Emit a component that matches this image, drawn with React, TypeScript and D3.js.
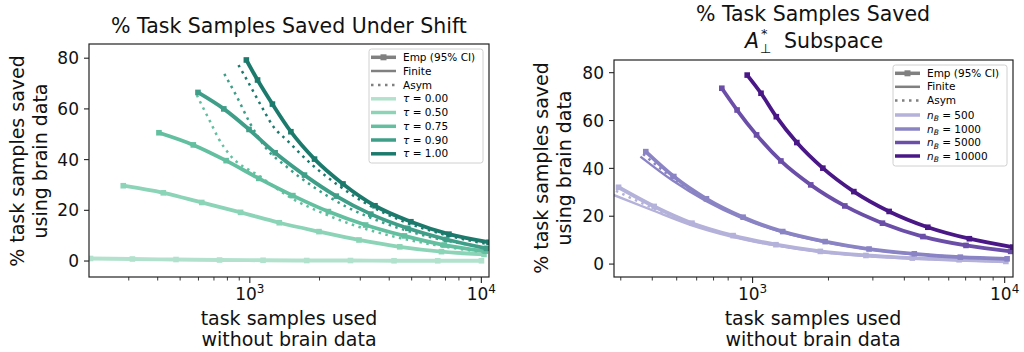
import React from "react";
import * as d3 from "d3";

// ---- left panel: % task samples saved under shift ----
const tauLabels = ["0.00", "0.50", "0.75", "0.90", "1.00"];
const tauColors = ["#b2e2cd", "#8cd4b7", "#62bf9f", "#3e9e88", "#1c7a6d"];

// empirical points (x = task samples used without brain data, y = % saved)
const tau00X = [205, 311, 480, 740, 1141, 1761, 2720, 4197, 6482, 10010];
const tau00Y = [1.0, 0.8, 0.6, 0.4, 0.3, 0.2, 0.2, 0.1, 0.1, 0.1];
const tau05X = [284, 423, 620, 912, 1340, 1989, 2961, 4442, 6725, 10267];
const tau05Y = [29.7, 26.9, 23.1, 19.2, 15.1, 11.6, 8.3, 5.6, 3.7, 2.6];
const tau075X = [405, 570, 790, 1093, 1534, 2184, 3164, 4654, 6911, 10406];
const tau075Y = [50.6, 45.8, 39.6, 32.6, 25.8, 19.5, 14.2, 9.9, 6.3, 3.9];
const tau09X = [597, 772, 992, 1286, 1722, 2363, 3331, 4814, 7078, 10526];
const tau09Y = [66.5, 60.0, 51.9, 42.7, 33.9, 25.6, 18.5, 12.9, 8.5, 5.0];
const tau10X = [966, 1080, 1252, 1504, 1903, 2526, 3472, 4962, 7244, 10799];
const tau10Y = [79.3, 71.4, 61.9, 51.0, 40.2, 30.4, 21.8, 15.5, 10.6, 7.4];

// asymptotic curves
const asym075X = [590, 620, 674, 732, 809, 1108, 1500, 2100, 3000, 4500, 6800, 10400];
const asym075Y = [65.5, 61.5, 55.0, 48.4, 42.5, 33.3, 25.0, 18.6, 13.3, 9.0, 5.8, 3.4];
const asym09X = [776, 879, 1003, 1164, 1450, 1900, 2600, 3800, 5800, 10400];
const asym09Y = [73.8, 64.8, 54.3, 45.0, 37.0, 29.0, 21.5, 15.0, 9.8, 5.4];
const asym10X = [893, 937, 1036, 1145, 1264, 1445, 1820, 2400, 2992, 4500, 7000, 10700];
const asym10Y = [77.3, 74.0, 66.8, 59.6, 53.0, 47.7, 38.7, 30.0, 24.1, 16.0, 10.3, 6.6];

// ---- right panel: A_perp* subspace ----
const nbLabels = ["500", "1000", "5000", "10000"];
const nbColors = ["#b4b1da", "#8a84c5", "#6a4ea8", "#4a1787"];

const nb500X = [294, 407, 575, 837, 1238, 1856, 2816, 4300, 6595, 10111];
const nb500Y = [32.1, 24.1, 17.1, 11.9, 8.1, 5.3, 3.6, 2.5, 1.8, 1.1];
const nb1000X = [377, 487, 656, 917, 1317, 1940, 2898, 4381, 6669, 10225];
const nb1000Y = [47.0, 36.6, 27.3, 19.6, 13.6, 9.4, 6.3, 4.3, 2.9, 2.2];
const nb5000X = [755, 868, 1037, 1295, 1701, 2322, 3275, 4738, 7024, 10560];
const nb5000Y = [73.5, 64.4, 54.0, 43.1, 33.1, 24.3, 17.1, 11.5, 7.8, 5.3];
const nb10000X = [952, 1080, 1242, 1498, 1900, 2522, 3481, 4956, 7244, 10764];
const nb10000Y = [79.0, 71.4, 61.6, 50.8, 40.1, 30.3, 22.0, 15.4, 10.6, 7.1];

const fin500X = [270, 400, 570, 830, 1230, 1850, 2810, 4300, 6600, 10100];
const fin500Y = [29.6, 22.5, 16.3, 11.4, 7.8, 5.1, 3.4, 2.3, 1.6, 1.0];
const fin1000X = [359, 480, 650, 912, 1315, 1938, 2897, 4380, 6668, 10225];
const fin1000Y = [44.9, 35.0, 26.5, 19.1, 13.3, 9.2, 6.2, 4.2, 2.9, 2.2];
const asy500X = [287, 404, 572, 834, 1234, 1853, 2813, 4300, 6598, 10105];
const asy500Y = [30.6, 23.3, 16.7, 11.7, 8.0, 5.2, 3.5, 2.4, 1.7, 1.05];
const asy1000X = [368, 484, 653, 915, 1316, 1939, 2897, 4380, 6668, 10225];
const asy1000Y = [46.0, 35.8, 26.9, 19.4, 13.5, 9.3, 6.25, 4.25, 2.9, 2.2];

const yTicks = [0, 20, 40, 60, 80];
const FONT = "DejaVu Sans, sans-serif";

const zip = (xs, ys) => xs.map((x, i) => [x, ys[i]]);

const leftSeries = [
  { color: tauColors[0], emp: zip(tau00X, tau00Y) },
  { color: tauColors[1], emp: zip(tau05X, tau05Y) },
  { color: tauColors[2], emp: zip(tau075X, tau075Y), asym: zip(asym075X, asym075Y) },
  { color: tauColors[3], emp: zip(tau09X, tau09Y), asym: zip(asym09X, asym09Y) },
  { color: tauColors[4], emp: zip(tau10X, tau10Y), asym: zip(asym10X, asym10Y) },
];

const rightSeries = [
  { color: nbColors[0], emp: zip(nb500X, nb500Y), fin: zip(fin500X, fin500Y), asym: zip(asy500X, asy500Y) },
  { color: nbColors[1], emp: zip(nb1000X, nb1000Y), fin: zip(fin1000X, fin1000Y), asym: zip(asy1000X, asy1000Y) },
  { color: nbColors[2], emp: zip(nb5000X, nb5000Y) },
  { color: nbColors[3], emp: zip(nb10000X, nb10000Y) },
];

function Legend({ x, y, w, h, rowY, labels, colors }) {
  const hx0 = x + 2, hx1 = x + 27, tx = x + 34;
  const gray = "#808080";
  return (
    <g fontFamily={FONT} fontSize={10.5}>
      <rect x={x} y={y} width={w} height={h} rx={2.5} fill="white" fillOpacity={0.8} stroke="#d0d0d0" />
      <line x1={hx0} x2={hx1} y1={rowY[0]} y2={rowY[0]} stroke={gray} strokeWidth={3.5} />
      <rect x={(hx0 + hx1) / 2 - 3} y={rowY[0] - 3} width={6} height={6} fill={gray} />
      <text x={tx} y={rowY[0]} dy="0.35em">Emp (95% CI)</text>
      <line x1={hx0} x2={hx1} y1={rowY[1]} y2={rowY[1]} stroke={gray} strokeWidth={2.5} />
      <text x={tx} y={rowY[1]} dy="0.35em">Finite</text>
      <line x1={hx0} x2={hx1} y1={rowY[2]} y2={rowY[2]} stroke={gray} strokeWidth={2.5} strokeDasharray="2.5,4.5" />
      <text x={tx} y={rowY[2]} dy="0.35em">Asym</text>
      {labels.map((lab, i) => (
        <g key={i}>
          <line x1={hx0} x2={hx1} y1={rowY[i + 3]} y2={rowY[i + 3]} stroke={colors[i]} strokeWidth={3.5} />
          <text x={tx} y={rowY[i + 3]} dy="0.35em">{lab}</text>
        </g>
      ))}
    </g>
  );
}

function Panel({ id, frame, xDomain, yDomain, series, xMajor }) {
  const { left, right, top, bottom } = frame;
  const xs = d3.scaleLog().domain(xDomain).range([left, right]);
  const ys = d3.scaleLinear().domain(yDomain).range([bottom, top]);
  const line = d3.line().x((d) => xs(d[0])).y((d) => ys(d[1])).curve(d3.curveMonotoneX);
  const minor = xs.ticks().filter((t) => !xMajor.includes(t) && t >= xDomain[0] && t <= xDomain[1]);
  return (
    <g>
      <defs>
        <clipPath id={id}>
          <rect x={left} y={top} width={right - left} height={bottom - top} />
        </clipPath>
      </defs>
      <g clipPath={`url(#${id})`}>
        {series.map((s, i) => (
          <g key={i}>
            <path d={line(s.emp)} fill="none" stroke={s.color} strokeWidth={3.8} strokeLinejoin="round" />
            {s.emp.map((d, j) => (
              <rect key={j} x={xs(d[0]) - 2.8} y={ys(d[1]) - 2.8} width={5.6} height={5.6} fill={s.color} />
            ))}
            {s.fin && <path d={line(s.fin)} fill="none" stroke={s.color} strokeWidth={2.4} />}
            {s.asym && (
              <path d={line(s.asym)} fill="none" stroke={s.color} strokeWidth={2.5} strokeDasharray="2.5,4.5" />
            )}
          </g>
        ))}
      </g>
      <rect x={left} y={top} width={right - left} height={bottom - top} fill="none" stroke="#222" strokeWidth={1.2} />
      <g fontFamily={FONT} fontSize={17} fill="#111">
        {yTicks.map((t) => (
          <g key={t}>
            <line x1={left - 5} x2={left} y1={ys(t)} y2={ys(t)} stroke="#222" strokeWidth={1.1} />
            <text x={left - 10} y={ys(t)} dy="0.36em" textAnchor="end">{t}</text>
          </g>
        ))}
        {minor.map((t) => (
          <line key={t} x1={xs(t)} x2={xs(t)} y1={bottom} y2={bottom + 3.5} stroke="#222" strokeWidth={0.9} />
        ))}
        {xMajor.map((t) => (
          <g key={t}>
            <line x1={xs(t)} x2={xs(t)} y1={bottom} y2={bottom + 6} stroke="#222" strokeWidth={1.1} />
            <text x={xs(t)} y={300} textAnchor="middle">
              10<tspan fontSize={12} dy={-7}>{Math.round(Math.log10(t))}</tspan>
            </text>
          </g>
        ))}
      </g>
    </g>
  );
}

export default function App() {
  return (
    <svg width={1024} height={352} style={{ position: "absolute", left: 0, top: 0, background: "white" }}>
      <rect width={1024} height={352} fill="white" />
      <Panel
        id="clipL"
        frame={{ left: 89, right: 489, top: 44, bottom: 277 }}
        xDomain={[202, 10790]}
        yDomain={[-6.3, 85.6]}
        series={leftSeries}
        xMajor={[1000, 10000]}
      />
      <Panel
        id="clipR"
        frame={{ left: 614, right: 1013, top: 60, bottom: 277 }}
        xDomain={[282, 10790]}
        yDomain={[-5.4, 85.3]}
        series={rightSeries}
        xMajor={[1000, 10000]}
      />
      <Legend
        x={369} y={49} w={114} h={114}
        rowY={[57.3, 71, 85, 98.8, 112.5, 126.3, 140, 153.8]}
        labels={tauLabels.map((l) => (
          <>
            <tspan fontStyle="italic">τ</tspan> = {l}
          </>
        ))}
        colors={tauColors}
      />
      <Legend
        x={893} y={65} w={114} h={101}
        rowY={[73.3, 86.8, 100.5, 115, 129, 142.5, 156]}
        labels={nbLabels.map((l) => (
          <>
            <tspan fontStyle="italic">n</tspan>
            <tspan fontStyle="italic" fontSize={7.5} dy={2.5}>B</tspan>
            <tspan dy={-2.5}> = {l}</tspan>
          </>
        ))}
        colors={nbColors}
      />
      <g fontFamily={FONT} fill="#111">
        <text x={289} y={33} fontSize={20.5} textAnchor="middle">% Task Samples Saved Under Shift</text>
        <text x={813} y={21} fontSize={20.5} textAnchor="middle">% Task Samples Saved</text>
        <text x={745} y={48.3} fontSize={20.5} fontStyle="italic">A</text>
        <text x={760} y={53} fontSize={13}>⊥</text>
        <text x={761} y={38} fontSize={13}>*</text>
        <text x={784} y={48.3} fontSize={20.5}>Subspace</text>

        <text x={289} y={325} fontSize={19} textAnchor="middle">task samples used</text>
        <text x={289} y={346} fontSize={19} textAnchor="middle">without brain data</text>
        <text x={813} y={325} fontSize={19} textAnchor="middle">task samples used</text>
        <text x={813} y={346} fontSize={19} textAnchor="middle">without brain data</text>

        <text transform="translate(23.5,161) rotate(-90)" fontSize={19} textAnchor="middle">% task samples saved</text>
        <text transform="translate(46.5,161) rotate(-90)" fontSize={19} textAnchor="middle">using brain data</text>
        <text transform="translate(548,168) rotate(-90)" fontSize={19} textAnchor="middle">% task samples saved</text>
        <text transform="translate(571,168) rotate(-90)" fontSize={19} textAnchor="middle">using brain data</text>
      </g>
    </svg>
  );
}
